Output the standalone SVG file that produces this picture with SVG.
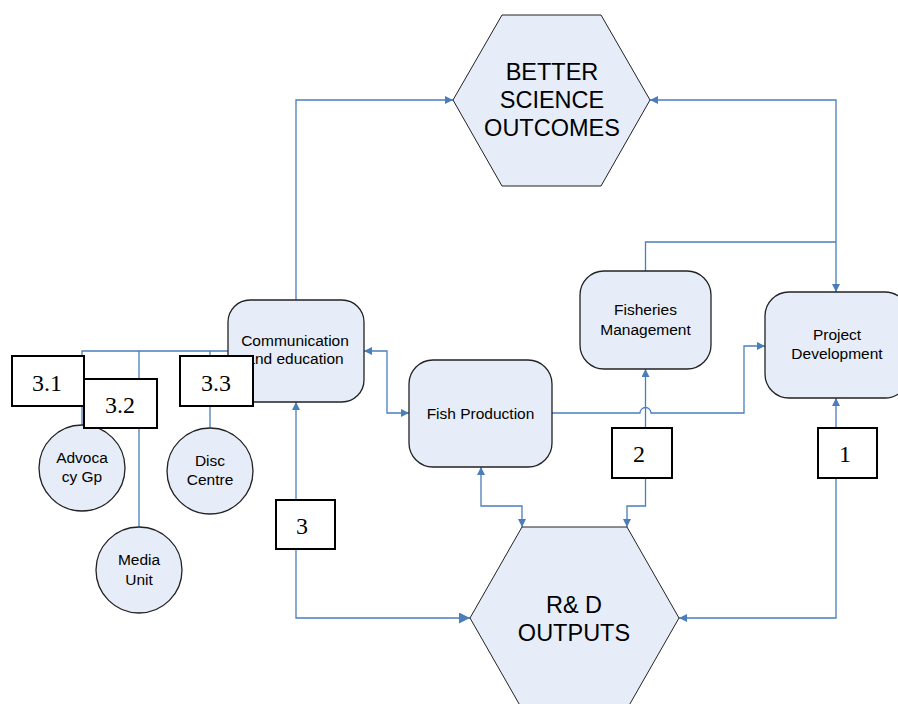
<svg xmlns="http://www.w3.org/2000/svg" width="898" height="704" viewBox="0 0 898 704">
<style>
.c{fill:none;stroke:#4a7ebb;stroke-width:1.3}
.n{fill:#e6edf8;stroke:#222;stroke-width:1.3}
.h{fill:#e6edf8;stroke:#222;stroke-width:1}
.b{fill:#fff;stroke:#000;stroke-width:2}
.t{font-family:"Liberation Sans",Arial,sans-serif;font-size:15.5px;fill:#000;text-anchor:middle}
.big{font-family:"Liberation Sans",Arial,sans-serif;font-size:23.5px;fill:#000;text-anchor:middle}
.num{font-family:"Liberation Serif","Times New Roman",serif;font-size:24px;fill:#000;text-anchor:middle}
</style>
<defs>
<marker id="a" markerUnits="userSpaceOnUse" markerWidth="10" markerHeight="10" refX="8" refY="4" orient="auto-start-reverse"><path d="M0,0 L8,4 L0,8 z" fill="#4a7ebb"/></marker>
<marker id="A" markerUnits="userSpaceOnUse" markerWidth="14" markerHeight="14" refX="11" refY="5.5" orient="auto-start-reverse"><path d="M0,0 L11,5.5 L0,11 z" fill="#4a7ebb"/></marker>
</defs>
<rect width="898" height="704" fill="#fff"/>
<g id="connectors">
<path class="c" d="M228,351 H82 V425 M139,351 V527 M210,351 V428"/>
<path class="c" d="M296,300 V100 H453" marker-end="url(#a)"/>
<path class="c" d="M650,100 H836 V292" marker-start="url(#a)" marker-end="url(#a)"/>
<path class="c" d="M645.5,271 V242 H836"/>
<path class="c" d="M364,351 H387 V413 H409" marker-start="url(#a)" marker-end="url(#a)"/>
<path class="c" d="M552,413 H640 A5.5,5.5 0 0 1 651,413 H744 V346 H765" marker-end="url(#a)"/>
<path class="c" d="M645.5,428 V369" marker-end="url(#a)"/>
<path class="c" d="M645.5,478 V506 H627 V527" marker-end="url(#a)"/>
<path class="c" d="M481,467 V506 H522 V527" marker-start="url(#a)" marker-end="url(#a)"/>
<path class="c" d="M836,428 V398" marker-end="url(#a)"/>
<path class="c" d="M836,478 V618 H679" marker-end="url(#a)"/>
<path class="c" d="M296,500 V402" marker-end="url(#a)"/>
<path class="c" d="M296,549 V618 H470" marker-end="url(#A)"/>
</g>
<g id="better-science">
<polygon class="h" points="502,15 601,15 650,100 601,186 502,186 453,100"/>
<text class="big" x="552" y="80">BETTER</text>
<text class="big" x="552" y="108">SCIENCE</text>
<text class="big" x="552" y="136">OUTCOMES</text>
</g>
<g id="rd-outputs">
<polygon class="h" points="522,527 627,527 679,618 627,709 522,709 470,618"/>
<text class="big" x="574" y="613">R&amp; D</text>
<text class="big" x="574" y="641">OUTPUTS</text>
</g>
<g id="communication">
<rect class="n" x="228" y="300" width="136" height="102" rx="22"/>
<text class="t" x="295" y="346">Communication</text>
<text class="t" x="295" y="364">and education</text>
</g>
<g id="fish-production">
<rect class="n" x="409" y="360" width="143" height="107" rx="24"/>
<text class="t" x="480.5" y="419">Fish Production</text>
</g>
<g id="fisheries-management">
<rect class="n" x="580" y="271" width="131" height="98" rx="24"/>
<text class="t" x="645.5" y="315">Fisheries</text>
<text class="t" x="645.5" y="335">Management</text>
</g>
<g id="project-development">
<rect class="n" x="765" y="292" width="144" height="106" rx="24"/>
<text class="t" x="837" y="340">Project</text>
<text class="t" x="837" y="359">Development</text>
</g>
<g id="advocacy">
<circle class="n" cx="82" cy="468" r="43"/>
<text class="t" x="82" y="463">Advoca</text>
<text class="t" x="82" y="482">cy Gp</text>
</g>
<g id="media-unit">
<circle class="n" cx="139" cy="570" r="43"/>
<text class="t" x="139" y="565">Media</text>
<text class="t" x="139" y="585">Unit</text>
</g>
<g id="disc-centre">
<circle class="n" cx="210" cy="471" r="43"/>
<text class="t" x="210" y="466">Disc</text>
<text class="t" x="210" y="485">Centre</text>
</g>
<g id="box-3-1"><rect class="b" x="12" y="356" width="72" height="50"/><text class="num" x="47" y="391">3.1</text></g>
<g id="box-3-2"><rect class="b" x="84" y="379" width="73" height="49"/><text class="num" x="120" y="413">3.2</text></g>
<g id="box-3-3"><rect class="b" x="180" y="356" width="73" height="50"/><text class="num" x="216" y="391">3.3</text></g>
<g id="box-3"><rect class="b" x="276" y="500" width="59" height="49"/><text class="num" x="302" y="534">3</text></g>
<g id="box-2"><rect class="b" x="612" y="428" width="60" height="50"/><text class="num" x="639" y="462">2</text></g>
<g id="box-1"><rect class="b" x="818" y="428" width="59" height="50"/><text class="num" x="845" y="462">1</text></g>
</svg>
